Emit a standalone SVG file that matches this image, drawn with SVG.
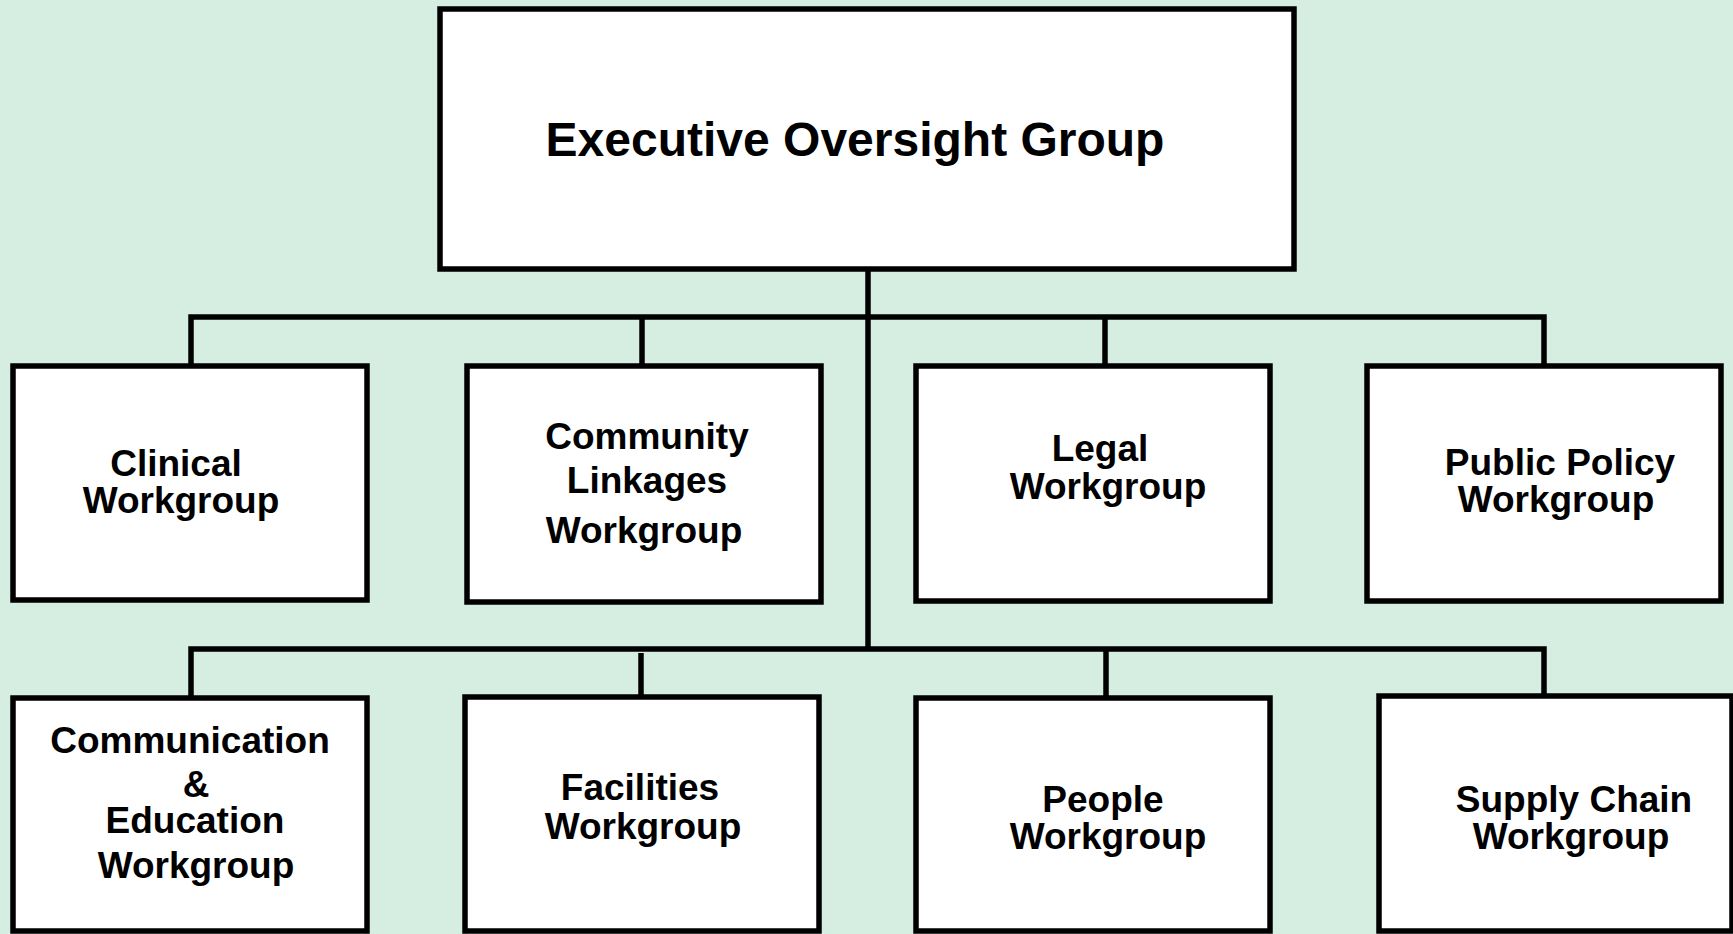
<svg xmlns="http://www.w3.org/2000/svg" width="1733" height="934" viewBox="0 0 1733 934">
<style>
.bg{fill:#D6EEE2}
.box{fill:#FFFFFF;stroke:#000000;stroke-width:5.5}
.ln{fill:none;stroke:#000000;stroke-width:5.5;stroke-linejoin:miter;stroke-linecap:butt}
.t{font-family:"Liberation Sans",Arial,sans-serif;font-weight:bold;font-size:37px;fill:#000000;text-anchor:middle}
.tt{font-family:"Liberation Sans",Arial,sans-serif;font-weight:bold;font-size:48px;fill:#000000;text-anchor:middle}
</style>
<rect class="bg" x="0" y="0" width="1733" height="934"/>
<g id="connectors">
<path class="ln" d="M868 270 V649"/>
<path class="ln" d="M191 366 V317 H1544 V366"/>
<path class="ln" d="M642 317 V366"/>
<path class="ln" d="M1105 317 V366"/>
<path class="ln" d="M191 698 V649 H1544 V696"/>
<path class="ln" d="M1106 649 V698"/>
<path class="ln" d="M641 653 V701"/>
</g>
<g id="executive">
<rect class="box" x="440" y="9" width="854" height="260"/>
<text class="tt" x="855" y="156">Executive Oversight Group</text>
</g>
<g id="clinical">
<rect class="box" x="13" y="366" width="354" height="234"/>
<text class="t" x="176" y="476">Clinical</text>
<text class="t" x="181" y="513">Workgroup</text>
</g>
<g id="community">
<rect class="box" x="467" y="366" width="354" height="236"/>
<text class="t" x="647" y="449">Community</text>
<text class="t" x="647" y="493">Linkages</text>
<text class="t" x="644" y="543">Workgroup</text>
</g>
<g id="legal">
<rect class="box" x="916" y="366" width="354" height="235"/>
<text class="t" x="1100" y="461">Legal</text>
<text class="t" x="1108" y="499">Workgroup</text>
</g>
<g id="publicpolicy">
<rect class="box" x="1367" y="366" width="354" height="235"/>
<text class="t" x="1560" y="475">Public Policy</text>
<text class="t" x="1556" y="512">Workgroup</text>
</g>
<g id="communication">
<rect class="box" x="13" y="698" width="354" height="233"/>
<text class="t" x="190" y="753">Communication</text>
<text class="t" x="196" y="797">&amp;</text>
<text class="t" x="195" y="833">Education</text>
<text class="t" x="196" y="878">Workgroup</text>
</g>
<g id="facilities">
<rect class="box" x="465" y="697" width="354" height="234"/>
<text class="t" x="640" y="800">Facilities</text>
<text class="t" x="643" y="839">Workgroup</text>
</g>
<g id="people">
<rect class="box" x="916" y="698" width="354" height="233"/>
<text class="t" x="1103" y="812">People</text>
<text class="t" x="1108" y="849">Workgroup</text>
</g>
<g id="supplychain">
<rect class="box" x="1379" y="696" width="353" height="235"/>
<text class="t" x="1574" y="812">Supply Chain</text>
<text class="t" x="1571" y="849">Workgroup</text>
</g>
</svg>
